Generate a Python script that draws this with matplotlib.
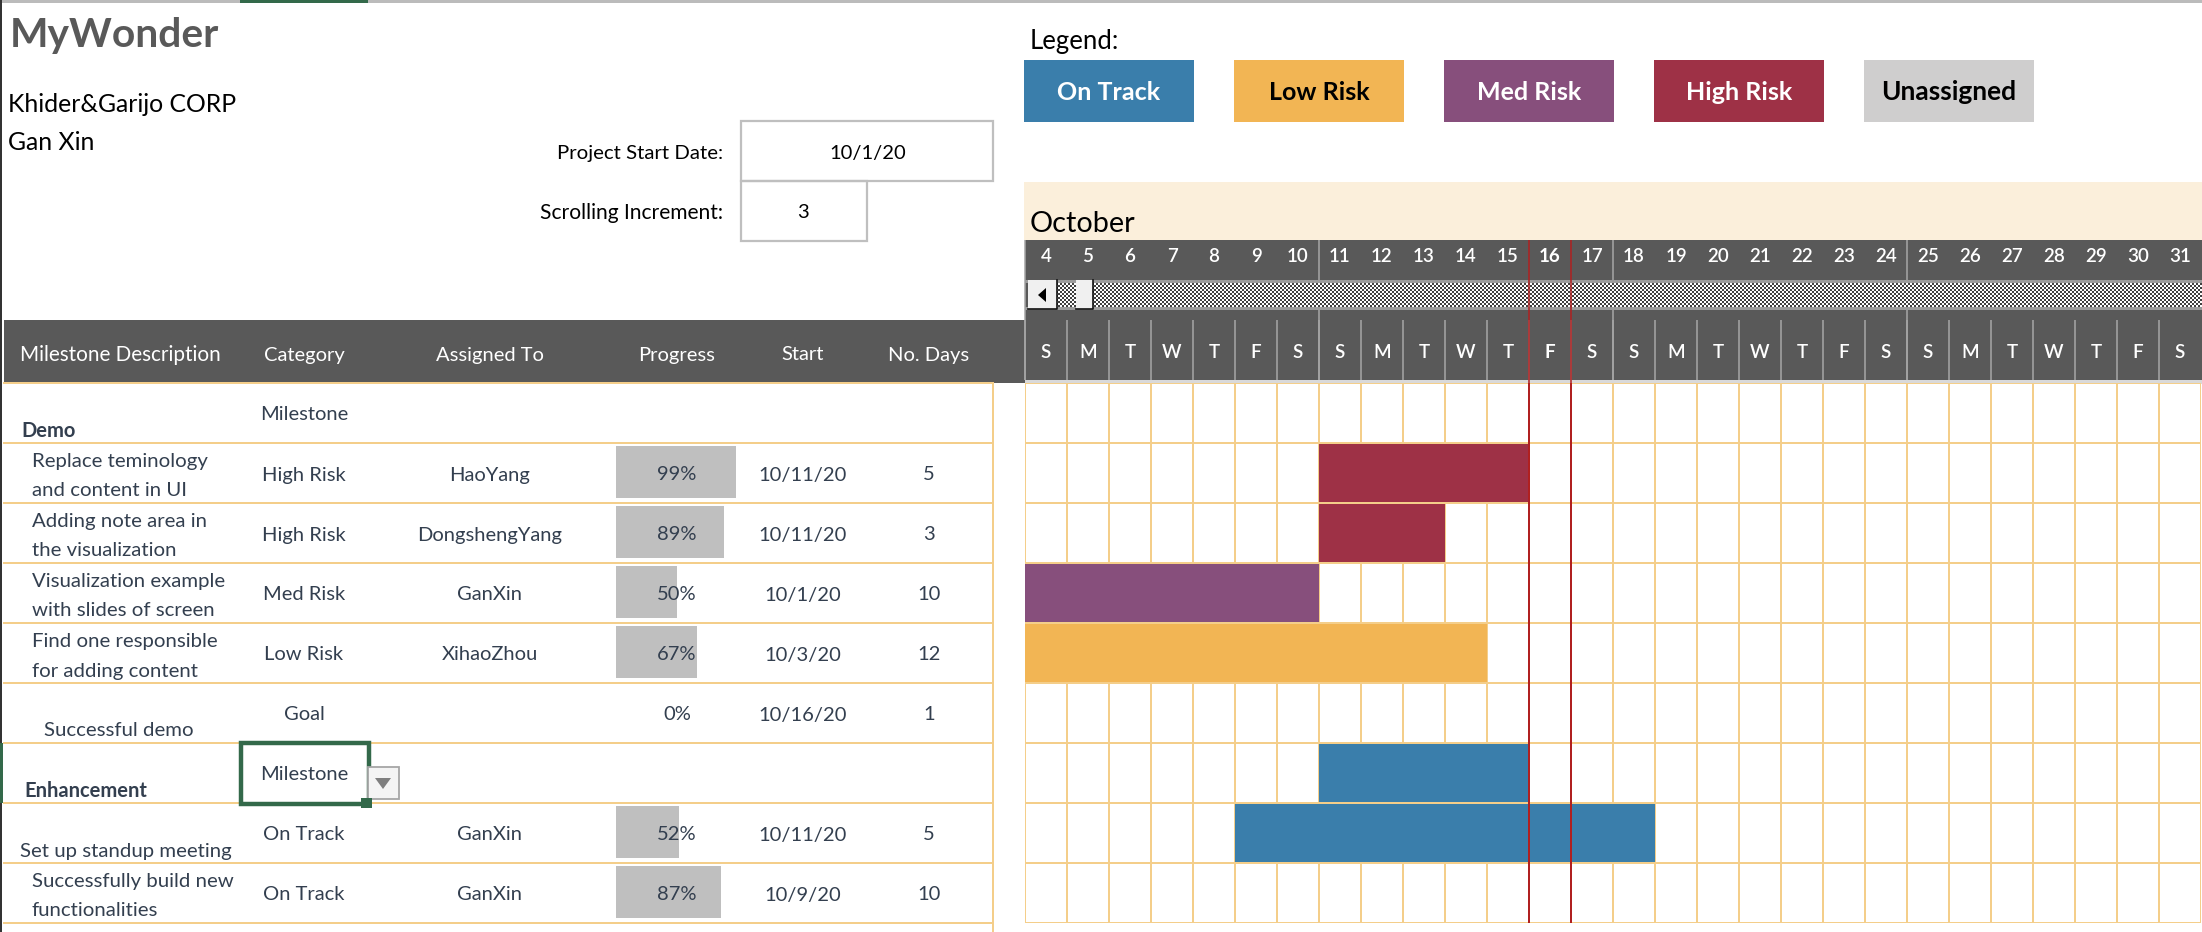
import matplotlib
matplotlib.use('Agg')
import matplotlib.pyplot as plt
import numpy as np
from matplotlib.patches import Rectangle, Polygon

plt.rcParams['font.family'] = ['Lato', 'DejaVu Sans']

W, H = 2202, 932

# table rows
descriptions = [['Demo'],
                ['Replace teminology', 'and content in UI'],
                ['Adding note area in', 'the visualization'],
                ['Visualization example', 'with slides of screen'],
                ['Find one responsible', 'for adding content'],
                ['Successful demo'],
                ['Enhancement'],
                ['Set up standup meeting'],
                ['Successfully build new', 'functionalities']]
categories = ['Milestone', 'High Risk', 'High Risk', 'Med Risk', 'Low Risk', 'Goal', 'Milestone', 'On Track', 'On Track']
assigned = ['', 'HaoYang', 'DongshengYang', 'GanXin', 'XihaoZhou', '', '', 'GanXin', 'GanXin']
progress = [None, 99, 89, 50, 67, 0, None, 52, 87]
starts = ['', '10/11/20', '10/11/20', '10/1/20', '10/3/20', '10/16/20', '', '10/11/20', '10/9/20']
n_days = ['', '5', '3', '10', '12', '1', '', '5', '10']

headers = ['Milestone Description', 'Category', 'Assigned To', 'Progress', 'Start', 'No. Days']

# gantt bars as drawn in the sheet (row, first day, length, status)
bar_rows = [1, 2, 3, 4, 6, 7]
bar_start = [11, 11, 1, 3, 11, 9]
bar_len = [5, 3, 10, 12, 5, 10]
bar_status = ['High Risk', 'High Risk', 'Med Risk', 'Low Risk', 'On Track', 'On Track']

legend_names = ['On Track', 'Low Risk', 'Med Risk', 'High Risk', 'Unassigned']
legend_colors = ['#3A7EAB', '#F2B554', '#874F7C', '#9E3146', '#CFCECE']
legend_text = ['white', 'black', 'white', 'white', 'black']
status_color = dict(zip(legend_names, legend_colors))

days = list(range(4, 32))
weekdays = ['S', 'M', 'T', 'W', 'T', 'F', 'S'] * 4
today_lines = [16, 17]

DARK = '#595959'
GRID = '#F4CE8A'
RED = '#B02020'
TXT = '#333F4F'
GREEN = '#33694A'
FONT = 14.5
LINE = 1.44  # 2px


def px_axes(x0, y0, x1, y1):
    # axes placed by pixel box of the sheet
    a = fig.add_axes([x0 / W, 1 - y1 / H, (x1 - x0) / W, (y1 - y0) / H])
    a.patch.set_alpha(0)
    a.axis('off')
    return a


fig = plt.figure(figsize=(W / 100, H / 100), dpi=100, facecolor='white')

ax = px_axes(0, 0, W, H)


def box(x0, y0, x1, y1, fc='none', ec='none', lw=0, z=1, **kw):
    ax.add_patch(Rectangle((x0, y0), x1 - x0, y1 - y0, fc=fc, ec=ec, lw=lw, zorder=z, **kw))


def label(x, y, s, size=FONT, color='black', ha='center', weight='normal', z=8):
    ax.text(x, y + 2, s, fontsize=size, color=color, ha=ha, va='center', fontweight=weight, zorder=z)


# window edges
box(0, 0, W, 2.5, fc='#BBBBBB')
box(240, 0, 368, 2.5, fc=GREEN)
box(0, 0, 2, H, fc='#333333')

# top left block
label(10, 33, 'MyWonder', size=29.3, color=DARK, ha='left', weight='bold')
label(8, 103, 'Khider&Garijo CORP', size=17.8, ha='left')
label(8, 141, 'Gan Xin', size=17.8, ha='left')
label(723, 151, 'Project Start Date:', ha='right', size=14.7)
label(723, 211, 'Scrolling Increment:', ha='right', size=15.1)
box(741, 121, 993, 181, ec='#BFBFBF', lw=1.6)
box(741, 181, 867, 241, ec='#BFBFBF', lw=1.6)
label(868, 151, '10/1/20')
label(803, 211, '3')

# legend
label(1030, 40, 'Legend:', size=18.5, ha='left')
for i, name in enumerate(legend_names):
    x0 = 1024 + 210 * i
    box(x0, 60, x0 + 170, 122, fc=legend_colors[i])
    size = 19 if name == 'Unassigned' else 18
    label(x0 + 85, 90, name, size=size, color=legend_text[i], weight='bold')

# calendar head
box(1024, 182, W, 240, fc='#FBEFDB')
label(1030, 222, 'October', size=20.8, ha='left')
box(4, 320, 1025, 383, fc=DARK)
box(1025, 240, W, 380, fc=DARK)
box(1025, 380, W, 384, fc='#D9D9D9')

day_w = (W - 1 - 1025) / 28
cols = [304, 490, 677, 803, 929]
label(120, 353, headers[0], color='white', size=14.9)
for c, h in zip(cols, headers[1:]):
    label(c, 353, h, color='white')

for i, (d, wd) in enumerate(zip(days, weekdays)):
    xc = 1025 + day_w * (i + 0.5)
    w = 'bold' if d == 16 else 600
    label(xc, 255, str(d), size=13.5, color='white', weight=w)
    label(xc, 351, wd, size=13.5, color='white', weight=w)
    xl = 1025 + day_w * i
    ax.plot([xl, xl], [320, 380], color='#A6A6A6', lw=1.1, zorder=2, solid_capstyle='butt')
    if i % 7 == 0:
        ax.plot([xl, xl], [240, 380], color='#A6A6A6', lw=1.1, zorder=2, solid_capstyle='butt')

# scroll bar, stipple is 4px wide
box(1025, 280, W, 283, fc='#9C9C9C', z=3)
box(1025, 307, W, 310, fc='#9C9C9C', z=3)
stipple = np.ones((24, W - 1028))
stipple[0::4, 0::4] = 0.25
stipple[0::4, 1::4] = 0.25
stipple[1::4, 0::4] = 0.25
stipple[1::4, 1::4] = 0.25
stipple[2::4, 2::4] = 0.25
stipple[2::4, 3::4] = 0.25
stipple[3::4, 2::4] = 0.25
stipple[3::4, 3::4] = 0.25
ax.imshow(stipple, cmap='gray', vmin=0, vmax=1, extent=(1028, W, 307, 283), aspect='auto',
          interpolation='nearest', zorder=3)
for x0, x1 in [(1028, 1057), (1076, 1093)]:
    box(x0, 280, x1, 309, fc='#F0F0F0', z=4)
    ax.plot([x0, x1, x1], [309, 309, 280], color='#111111', lw=1.2, zorder=5)
ax.add_patch(Polygon([[1038, 295], [1046, 288], [1046, 302]], fc='black', zorder=5))
ax.set_xlim(0, W)
ax.set_ylim(H, 0)

# table grid
row_h = 60
table_top = 383
for r in range(10):
    y = table_top + r * row_h
    ax.plot([3, 993], [y, y], color=GRID, lw=LINE, zorder=2, solid_capstyle='butt')
ax.plot([993, 993], [383, H], color=GRID, lw=LINE, zorder=2)

# table text
for r in range(len(categories)):
    top = table_top + r * row_h
    mid = top + row_h / 2
    label(cols[0], mid, categories[r], color=TXT)
    label(cols[1], mid, assigned[r], color=TXT)
    if progress[r] is not None:
        label(cols[2], mid, str(progress[r]) + '%', color=TXT)
    label(cols[3], mid, starts[r], color=TXT)
    label(cols[4], mid, n_days[r], color=TXT)

    desc = descriptions[r]
    if r in (0, 6):
        label(21 if r == 0 else 24, top + 46, desc[0], color=TXT, ha='left', weight='bold')
    elif len(desc) == 2:
        label(32, top + 16, desc[0], color=TXT, ha='left', size=14.7)
        label(32, top + 46, desc[1], color=TXT, ha='left', size=14.7)
    else:
        label(44 if r == 5 else 20, top + 46, desc[0], color=TXT, ha='left', size=14.7)

# progress bars
prog = px_axes(616, table_top, 737, table_top + 9 * row_h)
prog.set_xlim(0, 100)
prog.set_ylim(9, 0)
for r, p in enumerate(progress):
    if p:
        prog.barh(r + 0.48, p, height=0.87, color='#BFBFBF', zorder=1)
prog.set_zorder(0.5)
ax.set_zorder(1)
ax.patch.set_alpha(0)

# gantt
gantt = px_axes(1025, table_top, W - 1, table_top + 9 * row_h)
gantt.set_xlim(days[0], days[-1] + 1)
gantt.set_ylim(9, 0)
gantt.set_zorder(2)
for d in days + [32]:
    gantt.axvline(d, color=GRID, lw=LINE, zorder=1)
for r in range(10):
    gantt.axhline(r, color=GRID, lw=LINE, zorder=1)
for r, s, n, st in zip(bar_rows, bar_start, bar_len, bar_status):
    gantt.barh(r + 0.5, n, left=s, height=0.97, color=status_color[st], zorder=2)
for d in today_lines:
    x = 1025 + day_w * (d - days[0])
    gantt.axvline(d, color=RED, lw=LINE, zorder=3)
    ax.plot([x, x], [240, 383], color=RED, lw=1.1, zorder=5, solid_capstyle='butt')

# selected cell
box(241, 743, 369, 804, ec=GREEN, lw=3.2, z=6)
box(361, 798, 372, 808, fc=GREEN, z=7)
box(0, 743, 3, 803, fc=GREEN, z=7)
box(368, 767, 399, 799, fc='#F4F4F4', ec='#A6A6A6', lw=1.3, z=6)
ax.add_patch(Polygon([[375, 778], [391, 778], [383, 789]], fc='#7F7F7F', zorder=7))

fig.savefig('out.png', dpi=100)
